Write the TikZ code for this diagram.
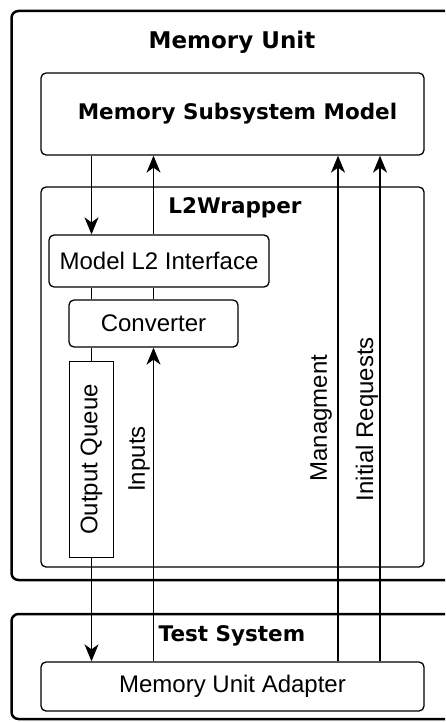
\documentclass[tikz,border=0pt]{standalone}
\usepackage{fontspec}
\setmainfont{Liberation Sans}
\newfontfamily\titlefont{DejaVu Sans}
\usetikzlibrary{arrows.meta}

\begin{document}
\begin{tikzpicture}[x=1pt,y=-1pt,
        unit/.style={draw,rounded corners=5pt,line width=1.3pt,inner sep=0pt,font=\fontsize{24}{28}\selectfont},
        frame/.style={draw,rounded corners=7pt,line width=2.5pt},
        title/.style={font=\titlefont\bfseries\fontsize{21.5}{25}\selectfont},
        side/.style={rotate=90,font=\fontsize{24}{28}\selectfont},
        link/.style={line width=1.3pt},
        >={Stealth[length=17pt,width=14pt,inset=5pt]}]
                \clip (0,0) rectangle (445,722);
                \draw[frame] (11.5,11) rectangle (470,580);
                \draw[frame] (11.5,614) rectangle (470,719);
                \node[title,font=\titlefont\bfseries\fontsize{23}{27}\selectfont] (mutitle) at (232,42) {Memory Unit};
                \node[title] (tstitle) at (232,636) {Test System};
                \node[unit,minimum width=383,minimum height=82,title] (msm) at (232.5,114) {\hspace{10pt}Memory Subsystem Model};
                \node[unit,minimum width=383,minimum height=380] (wrap) at (232.5,377) {};
                \node[title] (wraptitle) at (235,208) {L2Wrapper};
                \node[unit,minimum width=220,minimum height=52] (mli) at (159,261) {Model L2 Interface};
                \node[unit,minimum width=169,minimum height=47] (conv) at (153.5,323.5) {Converter};
                \node[unit,sharp corners,line width=1.1pt,minimum width=44,minimum height=196] (oq) at (91.5,459.5) {};
                \node[side] (oqtext) at (oq) {Output Queue};
                \node[unit,minimum width=383,minimum height=49] (mua) at (232.5,686.5) {Memory Unit Adapter};
                \coordinate (mg) at (338,0);
                \coordinate (ir) at (380,0);
                % connectors
                \draw[link,->] (oq |- msm.south) -- (oq |- mli.north);
                \draw[link,->] (conv |- mli.north) -- (conv |- msm.south);
                \draw[link] (oq |- mli.south) -- (oq |- conv.north);
                \draw[link] (conv |- mli.south) -- (conv.north);
                \draw[link] (oq |- conv.south) -- (oq.north);
                \draw[link,->] (oq.south) -- (oq |- mua.north);
                \draw[link,->] (conv |- mua.north) -- (conv.south);
                \draw[link,->] (mg |- mua.north) -- (mg |- msm.south);
                \draw[link,->] (ir |- mua.north) -- (ir |- msm.south);
                \node[side] (inlbl) at (139,459) {Inputs};
                \node[side] (mglbl) at (321,418) {Managment};
                \node[side] (irlbl) at (367,419) {Initial Requests};
            \end{tikzpicture}
\end{document}
